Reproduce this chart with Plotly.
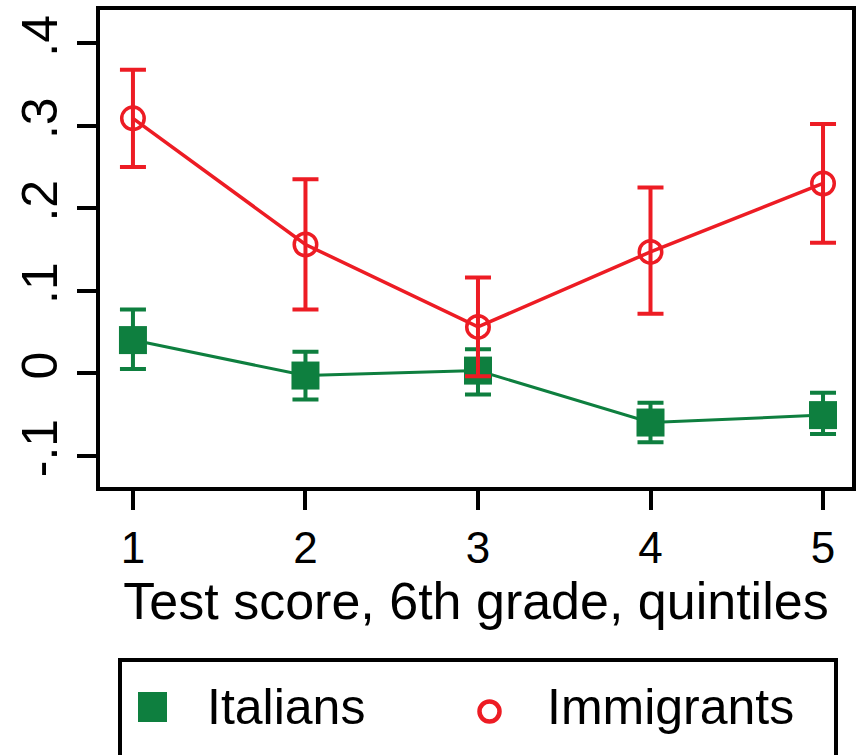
import plotly.graph_objects as go

quintiles = [1, 2, 3, 4, 5]
series_names = ["Italians", "Immigrants"]

italians = [0.040, -0.003, 0.003, -0.060, -0.051]
italians_hi = [0.077, 0.026, 0.029, -0.036, -0.024]
italians_lo = [0.005, -0.032, -0.026, -0.084, -0.074]

immigrants = [0.309, 0.156, 0.056, 0.147, 0.230]
immigrants_hi = [0.368, 0.235, 0.116, 0.225, 0.302]
immigrants_lo = [0.250, 0.077, -0.004, 0.072, 0.158]

y_tickvals = [-0.1, 0, 0.1, 0.2, 0.3, 0.4]
y_ticktext = ["-.1", "0", ".1", ".2", ".3", ".4"]
x_title = "Test score, 6th grade, quintiles"

GREEN = "#0e7f3f"
RED = "#ed1c24"
FONT = "Liberation Sans, Arial, Helvetica, sans-serif"

fig = go.Figure()

fig.add_trace(go.Scatter(
    x=quintiles, y=italians, name=series_names[0], mode="lines+markers",
    line=dict(color=GREEN, width=3),
    marker=dict(symbol="square", size=28, color=GREEN),
    error_y=dict(type="data", symmetric=False,
                 array=[h - v for h, v in zip(italians_hi, italians)],
                 arrayminus=[v - l for v, l in zip(italians, italians_lo)],
                 color=GREEN, thickness=4, width=13),
    showlegend=False,
))

fig.add_trace(go.Scatter(
    x=quintiles, y=immigrants, name=series_names[1], mode="lines+markers",
    line=dict(color=RED, width=3.5),
    marker=dict(symbol="circle-open", size=22.5, color=RED, line=dict(color=RED, width=3.5)),
    error_y=dict(type="data", symmetric=False,
                 array=[h - v for h, v in zip(immigrants_hi, immigrants)],
                 arrayminus=[v - l for v, l in zip(immigrants, immigrants_lo)],
                 color=RED, thickness=4, width=13),
    showlegend=False,
))

# plot area geometry in px (for placing the manual legend)
L, R, T, B = 100, 8, 10, 268
W, H = 860 - L - R, 755 - T - B
def px(x):
    return (x - L) / W
def py(y):
    return (755 - B - y) / H

shapes = [
    dict(type="rect", xref="paper", yref="paper",
         x0=px(120), x1=px(836), y0=py(780), y1=py(660),
         line=dict(color="black", width=4), fillcolor="rgba(0,0,0,0)"),
    dict(type="rect", xref="paper", yref="paper",
         x0=px(138), x1=px(167), y0=py(722), y1=py(692),
         line=dict(width=0), fillcolor=GREEN),
    dict(type="circle", xref="paper", yref="paper",
         x0=px(479.5), x1=px(499.5), y0=py(721.5), y1=py(701.5),
         line=dict(color=RED, width=4.5), fillcolor="rgba(0,0,0,0)"),
]

annotations = [
    dict(text=series_names[0], xref="paper", yref="paper", x=px(205), y=py(707),
         xanchor="left", yanchor="middle", showarrow=False,
         font=dict(family=FONT, size=50, color="black")),
    dict(text=series_names[1], xref="paper", yref="paper", x=px(545), y=py(707),
         xanchor="left", yanchor="middle", showarrow=False,
         font=dict(family=FONT, size=50, color="black")),
]

fig.update_layout(
    width=860, height=755,
    margin=dict(l=L, r=R, t=T, b=B),
    paper_bgcolor="white", plot_bgcolor="white",
    font=dict(family=FONT, color="black"),
    shapes=shapes, annotations=annotations,
    showlegend=False,
)

fig.update_xaxes(
    range=[0.809, 5.168], tickvals=quintiles, ticktext=[str(q) for q in quintiles],
    showgrid=False, zeroline=False,
    showline=True, mirror=True, linecolor="black", linewidth=4,
    ticks="outside", ticklen=19, tickwidth=4, tickcolor="black",
    tickfont=dict(family=FONT, size=44, color="black"),
    title=dict(text=x_title, font=dict(family=FONT, size=52, color="black"), standoff=10),
    automargin=False,
)
fig.update_yaxes(
    range=[-0.1382, 0.4404], tickvals=y_tickvals, ticktext=y_ticktext,
    showgrid=False, zeroline=False,
    showline=True, mirror=True, linecolor="black", linewidth=4,
    ticks="outside", ticklen=19, tickwidth=4, tickcolor="black",
    tickangle=-90, ticklabelstandoff=0,
    tickfont=dict(family=FONT, size=50, color="black"),
    automargin=False,
)

fig.write_html("out.html", config={"displayModeBar": False},
               post_script="document.body.style.margin='0';")
